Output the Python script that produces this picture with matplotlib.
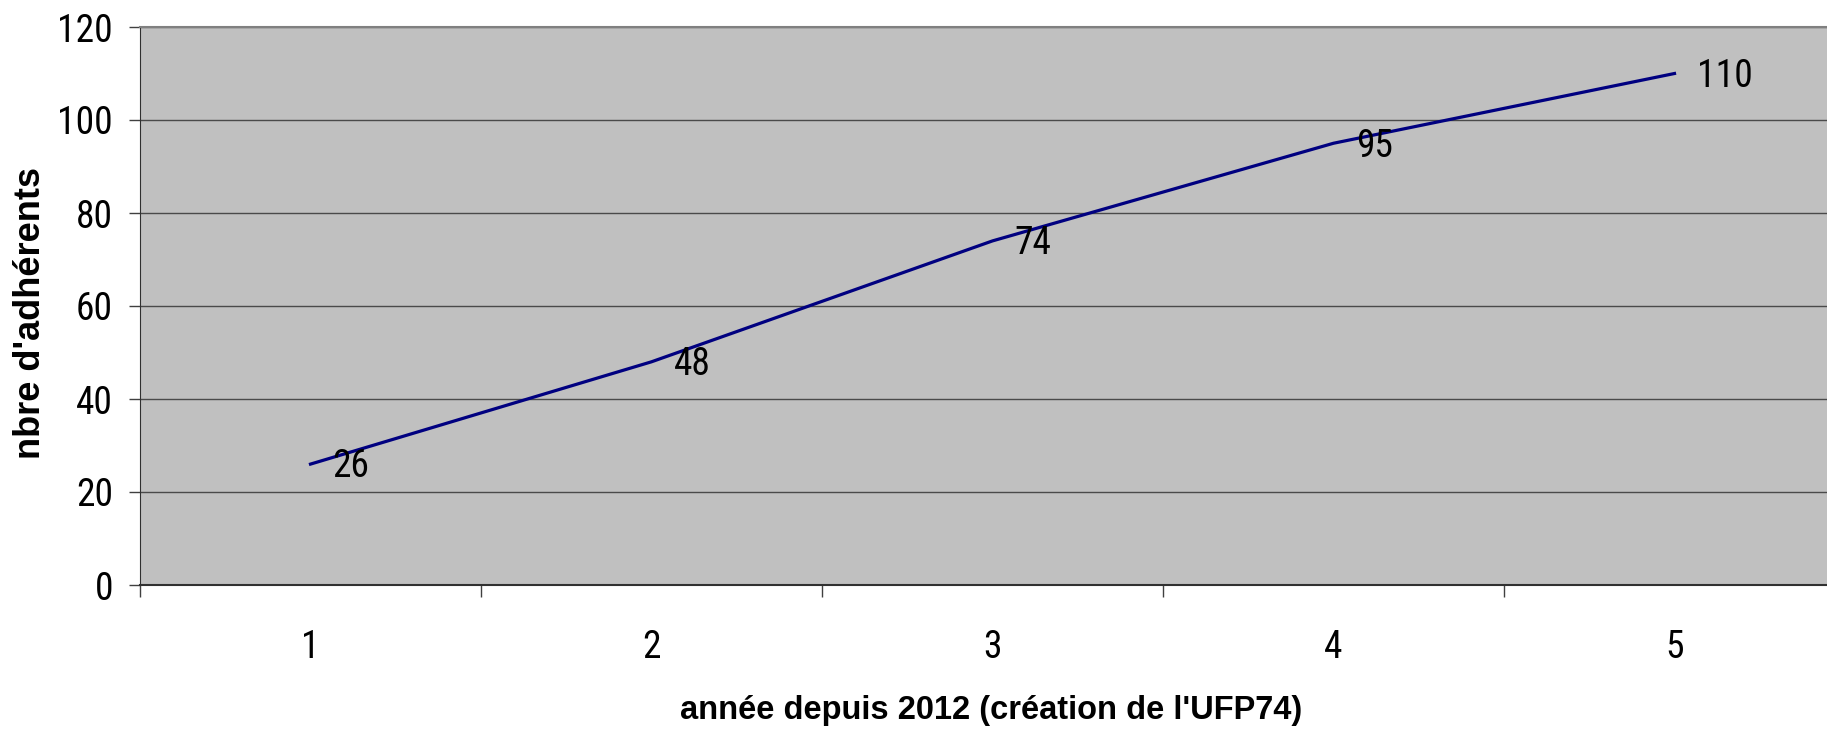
import numpy as np
import matplotlib
matplotlib.use("Agg")
from matplotlib import pyplot as plt

# data
annees = [1, 2, 3, 4, 5]
adherents = [26, 48, 74, 95, 110]
yticks = [0, 20, 40, 60, 80, 100, 120]

plt.rcParams['font.family'] = ['Liberation Sans', 'DejaVu Sans']
# the numbers in the original are narrow and tall
narrow = ['Liberation Sans Narrow', 'Roboto Condensed', 'Archivo Narrow', 'Liberation Sans']

fig = plt.figure(figsize=(18.27, 7.30), dpi=100)
ax = fig.add_axes([140/1827, 1-585/730, 1705/1827, 558/730])
ax.set_facecolor('#c0c0c0')

ax.plot(annees, adherents, color='#000080', lw=2.3, solid_joinstyle='round')
for x, y in zip(annees, adherents):
    ax.annotate(str(y), (x, y), xytext=(16, -2), textcoords='offset points',
                ha='left', va='center', fontsize=27, family=narrow)

ax.set_xlim(0.5, 5.5)
ax.set_ylim(0, 120)
ax.set_yticks(yticks)
ax.yaxis.grid(True, color='#4a4a4a', lw=1)
ax.set_axisbelow(True)

# category boundaries as ticks, labels centered on categories
ax.set_xticks(np.arange(0.5, 6, 1))
ax.set_xticklabels([])
ax.set_xticks(annees, minor=True)
ax.set_xticklabels([str(a) for a in annees], minor=True, fontsize=27, family=narrow)
for lab in ax.get_yticklabels():
    lab.set_family(narrow)
ax.tick_params(axis='x', which='major', length=8.5, width=1, color='#404040')
ax.tick_params(axis='x', which='minor', length=0, pad=32)
ax.tick_params(axis='y', length=8, width=1, color='#404040', labelsize=27, pad=11.5)

ax.spines['top'].set_color('#808080')
ax.spines['top'].set_linewidth(1.5)
ax.spines['right'].set_visible(False)
ax.spines['left'].set_color('#303030')
ax.spines['bottom'].set_color('#303030')
ax.spines['bottom'].set_linewidth(1.5)

fig.text(31/1827, 1-313/730, "nbre d'adhérents", rotation=90, ha='center', va='center',
         fontsize=26, fontweight='bold')
fig.text(991/1827, 1-710/730, "année depuis 2012 (création de l'UFP74)", ha='center', va='center',
         fontsize=23.5, fontweight='bold')

fig.savefig('out.png', dpi=100)
